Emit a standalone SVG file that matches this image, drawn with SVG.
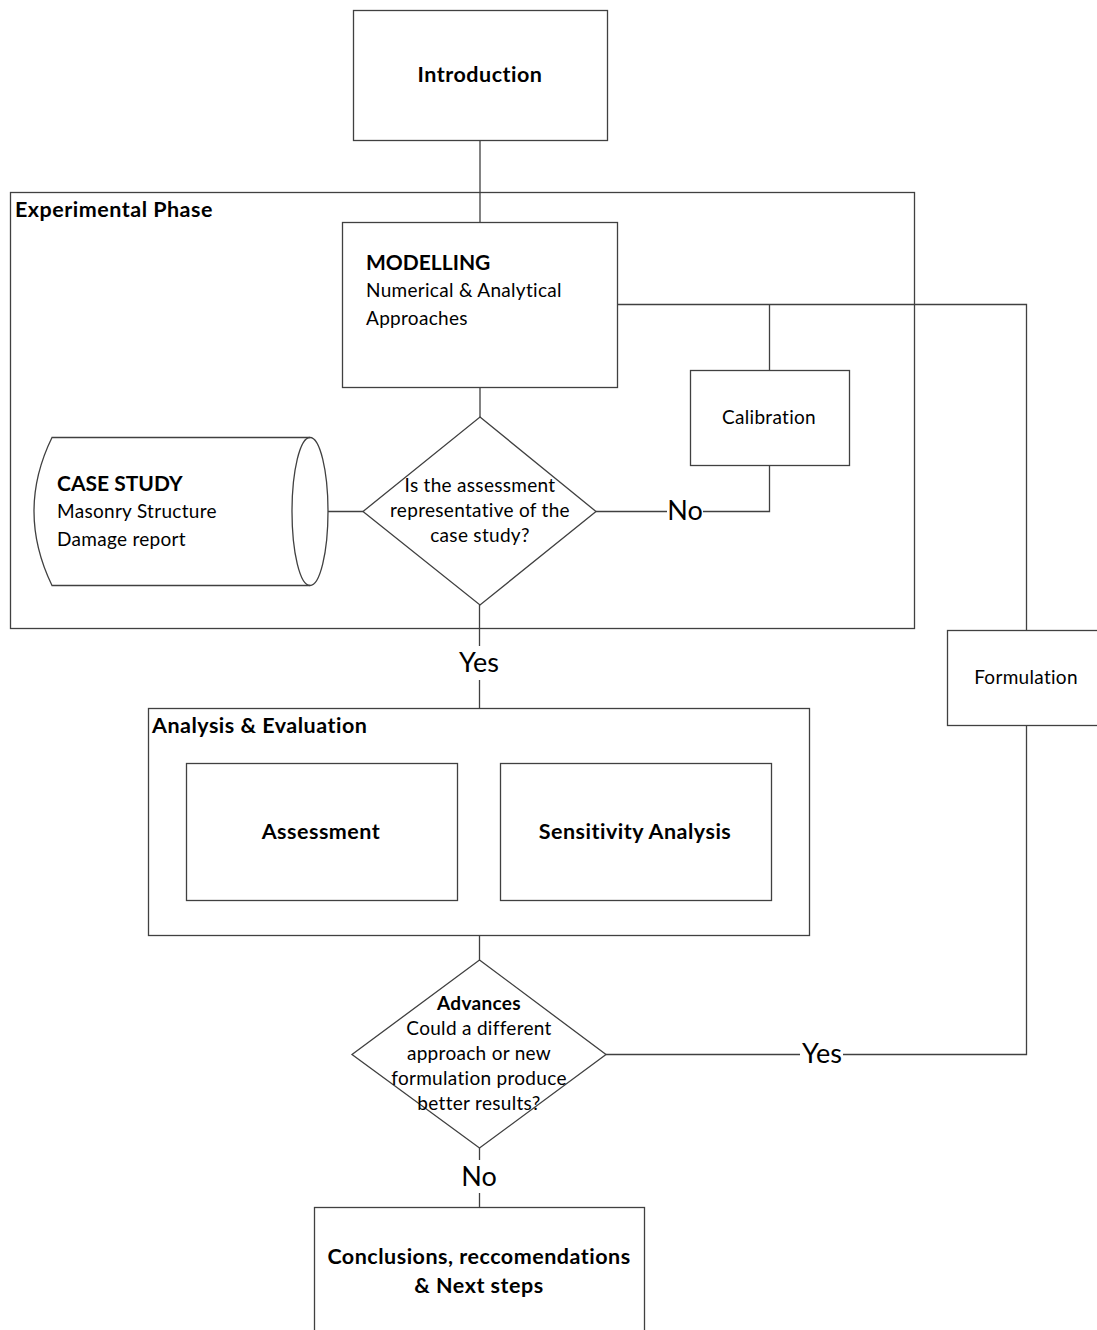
<svg xmlns="http://www.w3.org/2000/svg" width="1097" height="1330" viewBox="0 0 1097 1330">
<style>
.b{fill:#fff;stroke:#404040;stroke-width:1.3}
.c{fill:none;stroke:#404040;stroke-width:1.3}
text{font-family:Lato,"Open Sans","Liberation Sans",sans-serif;fill:#000}
.t{font-size:21.5px;font-weight:bold;text-anchor:middle;letter-spacing:0.5px}
.h{font-size:21.5px;font-weight:bold;letter-spacing:0.5px}
.u{font-size:21px;font-weight:bold}
.n{font-size:19px;letter-spacing:0.3px}
.m{font-size:19px;text-anchor:middle;letter-spacing:0.3px}
.l{font-size:27px;text-anchor:middle}
</style>
<rect width="1097" height="1330" fill="#fff"/>
<g id="experimental-phase">
<rect class="b" x="10.5" y="192.5" width="904" height="436"/>
<text class="h" x="15" y="217">Experimental Phase</text>
</g>
<g id="analysis-evaluation">
<rect class="b" x="148.5" y="708.5" width="661" height="227"/>
<text class="h" x="152" y="733">Analysis &amp; Evaluation</text>
</g>
<g id="connectors">
<path class="c" d="M480 140 V222"/>
<path class="c" d="M617 304.5 H1026.5 V630"/>
<path class="c" d="M769.5 304.5 V370"/>
<path class="c" d="M769.5 465 V511.5 H703"/>
<path class="c" d="M667 511.5 H596"/>
<path class="c" d="M480 387 V417"/>
<path class="c" d="M363 511.5 H310"/>
<path class="c" d="M479.5 605 V646"/>
<path class="c" d="M479.5 680 V708"/>
<path class="c" d="M479.5 935 V960"/>
<path class="c" d="M606 1054.5 H800"/>
<path class="c" d="M843 1054.5 H1026.5 V725"/>
<path class="c" d="M479.5 1148 V1160"/>
<path class="c" d="M479.5 1193 V1207"/>
<text class="l" x="685" y="520">No</text>
<text class="l" x="479" y="672">Yes</text>
<text class="l" x="822" y="1063">Yes</text>
<text class="l" x="479" y="1186">No</text>
</g>
<g id="introduction">
<rect class="b" x="353.5" y="10.5" width="254" height="130"/>
<text class="t" x="480" y="82">Introduction</text>
</g>
<g id="modelling">
<rect class="b" x="342.5" y="222.5" width="275" height="165"/>
<text class="u" x="366" y="270">MODELLING</text>
<text class="n" x="366" y="297">Numerical &amp; Analytical</text>
<text class="n" x="366" y="325">Approaches</text>
</g>
<g id="calibration">
<rect class="b" x="690.5" y="370.5" width="159" height="95"/>
<text class="m" x="769" y="424">Calibration</text>
</g>
<g id="case-study">
<path class="b" d="M52 437.5 H310 A18 74 0 0 1 310 585.5 H52 Q16 511 52 437.5 Z"/>
<path class="c" d="M310 437.5 A18 74 0 0 0 310 585.5"/>
<text class="u" x="57" y="491">CASE STUDY</text>
<text class="n" x="57" y="518">Masonry Structure</text>
<text class="n" x="57" y="546">Damage report</text>
</g>
<g id="decision-representative">
<polygon class="b" points="480,417 596,511.5 480,605 363,511.5"/>
<text class="m" x="480" y="492">Is the assessment</text>
<text class="m" x="480" y="517">representative of the</text>
<text class="m" x="480" y="542">case study?</text>
</g>
<g id="assessment">
<rect class="b" x="186.5" y="763.5" width="271" height="137"/>
<text class="t" x="321" y="839">Assessment</text>
</g>
<g id="sensitivity-analysis">
<rect class="b" x="500.5" y="763.5" width="271" height="137"/>
<text class="t" x="635" y="839">Sensitivity Analysis</text>
</g>
<g id="decision-advances">
<polygon class="b" points="479.5,960 606,1054.5 479.5,1148 352,1054.5"/>
<text class="m" x="479" y="1010" style="font-weight:bold">Advances</text>
<text class="m" x="479" y="1035">Could a different</text>
<text class="m" x="479" y="1060">approach or new</text>
<text class="m" x="479" y="1085">formulation produce</text>
<text class="m" x="479" y="1110">better results?</text>
</g>
<g id="formulation">
<rect class="b" x="947.5" y="630.5" width="160" height="95"/>
<text class="m" x="1026" y="684">Formulation</text>
</g>
<g id="conclusions">
<rect class="b" x="314.5" y="1207.5" width="330" height="140"/>
<text class="t" x="479" y="1264">Conclusions, reccomendations</text>
<text class="t" x="479" y="1293">&amp; Next steps</text>
</g>
</svg>
